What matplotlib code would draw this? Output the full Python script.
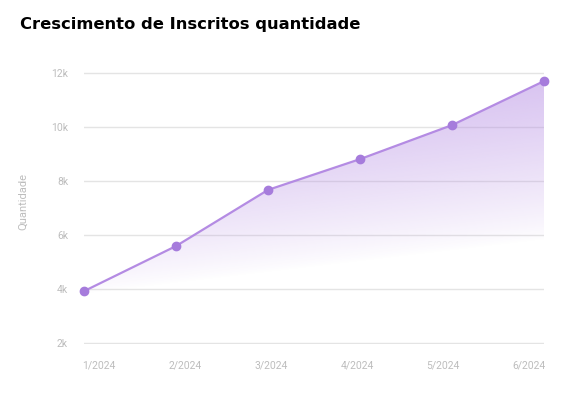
import numpy as np
import matplotlib
matplotlib.use('Agg')
import matplotlib.pyplot as plt
from matplotlib.path import Path
from matplotlib.patches import PathPatch
from matplotlib.ticker import FuncFormatter

# data
months = ["1/2024", "2/2024", "3/2024", "4/2024", "5/2024", "6/2024"]
inscritos = [3920, 5590, 7670, 8810, 10070, 11700]
y_ticks = [2000, 4000, 6000, 8000, 10000, 12000]

line_color = "#b48be3"
marker_color = "#a67cdc"
grey = "#bdbdbd"

fig = plt.figure(figsize=(5.73, 3.97), dpi=100)
W, H = 573, 397
ax = fig.add_axes([84 / W, 1 - 344 / H, (544 - 84) / W, (344 - 72) / H])

x = np.arange(len(months))
n = len(months) - 1
ax.set_xlim(0, n)
ax.set_ylim(1963, 12037)

# gradient fill under the line, clipped to the area polygon
gx = np.linspace(0, n, 300)
gy = np.linspace(2000, 12000, 300)
GX, GY = np.meshgrid(gx, gy)
fade = 3800 + (5800 - 3800) * GX / n  # where the fill fades out
t = np.clip((GY - fade) / 7500, 0, 1) ** 0.8
rgba = np.zeros(GX.shape + (4,))
rgba[..., :3] = matplotlib.colors.to_rgb(line_color)
rgba[..., 3] = 0.62 * t
img = ax.imshow(rgba, extent=(gx[0], gx[-1], gy[0], gy[-1]), origin="lower",
                aspect="auto", zorder=1, interpolation="bilinear")
verts = [(x[0], 2000)] + list(zip(x, inscritos)) + [(x[-1], 2000), (x[0], 2000)]
codes = [Path.MOVETO] + [Path.LINETO] * (len(verts) - 2) + [Path.CLOSEPOLY]
patch = PathPatch(Path(verts, codes), facecolor="none", edgecolor="none")
ax.add_patch(patch)
img.set_clip_path(patch)

ax.plot(x, inscritos, color=line_color, linewidth=1.6, zorder=3,
        marker="o", markersize=6, markerfacecolor=marker_color,
        markeredgecolor=marker_color, clip_on=False)

# axes styling
for s in ax.spines.values():
    s.set_visible(False)
ax.set_yticks(y_ticks)
ax.yaxis.set_major_formatter(FuncFormatter(lambda v, p: f"{int(v / 1000)}k"))
# month labels are spread evenly, first flush left and last flush right
inset = 0.158
ax.set_xticks(inset + x * (n - 2 * inset) / n)
ax.set_xticklabels(months)
ax.tick_params(length=0, colors=grey, labelsize=7.5)
ax.tick_params(axis="x", pad=12)
ax.tick_params(axis="y", pad=11.5)
for lbl in ax.get_xticklabels() + ax.get_yticklabels():
    lbl.set_fontfamily("Roboto")
ax.grid(axis="y", color="#e4e4e4", linewidth=1, zorder=0)
ax.grid(axis="x", visible=False)
ax.set_axisbelow(True)

ax.set_ylabel("Quantidade", color=grey, fontsize=8, fontfamily="Roboto")
ax.yaxis.set_label_coords(-(84 - 28) / 460, 0.524)

fig.text(20 / W, 1 - 24 / H, "Crescimento de Inscritos quantidade",
         fontsize=11.8, fontweight="black", fontfamily="DejaVu Sans",
         color="black", va="center", ha="left")

fig.savefig("out.png", dpi=100)
